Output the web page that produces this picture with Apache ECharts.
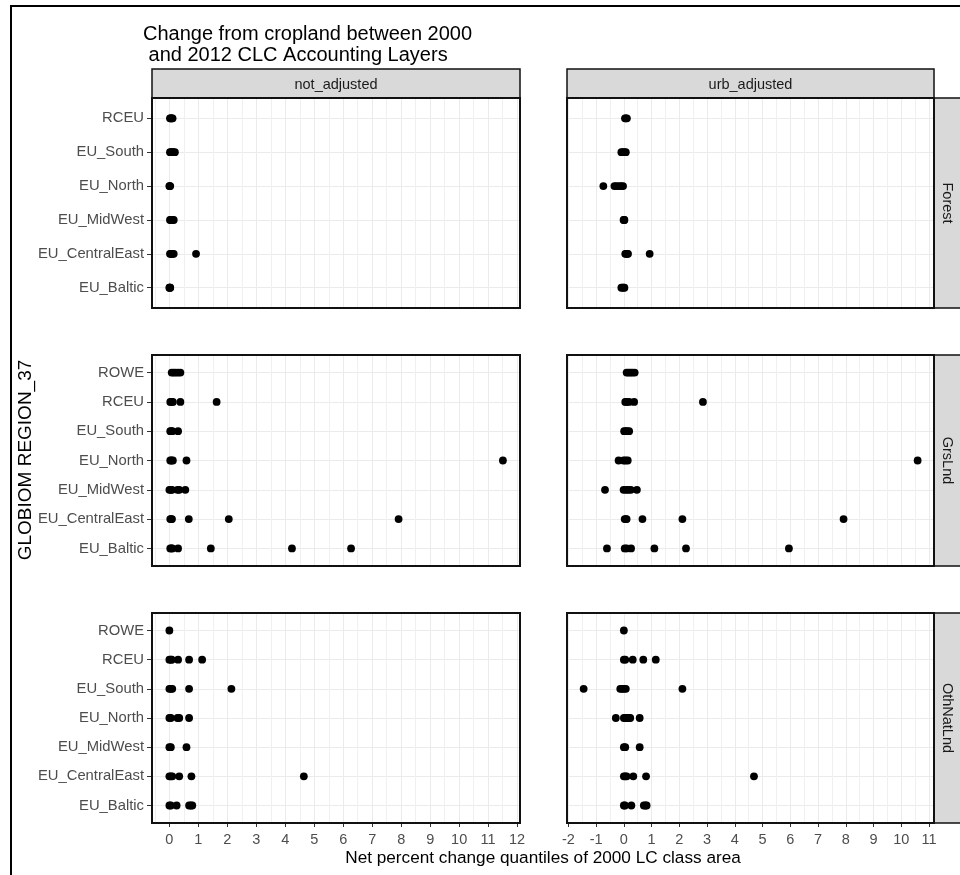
<!DOCTYPE html>
<html><head><meta charset="utf-8">
<script src="https://cdn.jsdelivr.net/npm/echarts@6/dist/echarts.min.js"></script>
<style>html,body{margin:0;padding:0;background:#fff}#c{width:960px;height:875px}</style>
</head><body><div id="c"></div>
<script>
// ---- categories / labels ----
const columnLabels = ['not_adjusted', 'urb_adjusted'];
const rowLabels = ['Forest', 'GrsLnd', 'OthNatLnd'];
const regionsForest = ['EU_Baltic', 'EU_CentralEast', 'EU_MidWest', 'EU_North', 'EU_South', 'RCEU'];
const regionsAll = ['EU_Baltic', 'EU_CentralEast', 'EU_MidWest', 'EU_North', 'EU_South', 'RCEU', 'ROWE'];
const xTicksLeft = [0, 1, 2, 3, 4, 5, 6, 7, 8, 9, 10, 11, 12];
const xTicksRight = [-2, -1, 0, 1, 2, 3, 4, 5, 6, 7, 8, 9, 10, 11];
const titleLines = ['Change from cropland between 2000', ' and 2012 CLC Accounting Layers'];
const xTitle = 'Net percent change quantiles of 2000 LC class area';
const yTitle = 'GLOBIOM REGION_37';

// ---- values (net % change quantiles), one list per region, in region order ----
const forestNotAdj = [
  [0.0, 0.01, 0.02, 0.03],
  [0.02, 0.05, 0.08, 0.11, 0.15, 0.92],
  [0.02, 0.05, 0.08, 0.11, 0.15],
  [0.0, 0.01, 0.03],
  [0.02, 0.06, 0.1, 0.14, 0.19],
  [0.02, 0.04, 0.06, 0.09, 0.11]
];
const forestUrbAdj = [
  [-0.09, -0.05, -0.01, 0.02],
  [0.05, 0.09, 0.12, 0.15, 0.93],
  [-0.01, 0.01, 0.02],
  [-0.74, -0.34, -0.27, -0.18, -0.1, -0.03],
  [-0.09, -0.04, 0.02, 0.07],
  [0.04, 0.07, 0.11]
];
const grsNotAdj = [
  [0.03, 0.07, 0.1, 0.3, 1.43, 4.23, 6.27],
  [0.03, 0.06, 0.09, 0.67, 2.05, 7.91],
  [0.0, 0.05, 0.09, 0.28, 0.34, 0.55],
  [0.03, 0.07, 0.12, 0.59, 11.51],
  [0.03, 0.07, 0.1, 0.3],
  [0.03, 0.07, 0.12, 0.38, 1.63],
  [0.08, 0.15, 0.22, 0.3, 0.38]
];
const grsUrbAdj = [
  [-0.61, 0.03, 0.1, 0.26, 1.1, 2.24, 5.95],
  [0.03, 0.07, 0.1, 0.67, 2.11, 7.92],
  [-0.68, -0.01, 0.08, 0.16, 0.25, 0.47],
  [-0.19, -0.01, 0.06, 0.14, 10.59],
  [0.01, 0.06, 0.12, 0.19],
  [0.05, 0.1, 0.19, 0.37, 2.85],
  [0.1, 0.17, 0.24, 0.31, 0.39]
];
const othNotAdj = [
  [0.0, 0.05, 0.25, 0.68, 0.74, 0.79],
  [0.0, 0.05, 0.1, 0.34, 0.76, 4.64],
  [0.0, 0.05, 0.59],
  [0.0, 0.05, 0.28, 0.34, 0.68],
  [0.0, 0.05, 0.1, 0.68, 2.14],
  [0.0, 0.05, 0.08, 0.3, 0.68, 1.13],
  [0.0]
];
const othUrbAdj = [
  [0.0, 0.04, 0.27, 0.72, 0.78, 0.82],
  [0.0, 0.05, 0.1, 0.34, 0.8, 4.69],
  [0.0, 0.05, 0.57],
  [-0.29, 0.0, 0.06, 0.12, 0.18, 0.23, 0.57],
  [-1.45, -0.13, -0.07, 0.0, 0.07, 2.11],
  [0.0, 0.05, 0.32, 0.7, 1.15],
  [0.0]
];
// axis limits
const xLimLeft = [-0.6, 12.1];
const xLimRight = [-2.05, 11.18];

// ---- layout ----
const FONT = "'Liberation Sans', Arial, sans-serif";
const colLeft = [152, 567], colWidth = [368, 367];
const rowTop = [98, 355, 613], rowHeight = [210, 211, 210];
const stripTop = 69, stripH = 29, rightStripX = 934;

const facetRows = [
  { regions: regionsForest, data: [forestNotAdj, forestUrbAdj] },
  { regions: regionsAll, data: [grsNotAdj, grsUrbAdj] },
  { regions: regionsAll, data: [othNotAdj, othUrbAdj] }
];

const grids = [], xAxes = [], yAxes = [], series = [], graphics = [];
let k = 0;
facetRows.forEach((fr, r) => {
  const n = fr.regions.length;
  const idx = fr.regions.map((_, i) => i);
  [0, 1].forEach(c => {
    grids.push({ left: colLeft[c], top: rowTop[r], width: colWidth[c], height: rowHeight[r],
                 show: false, containLabel: false, outerBoundsMode: 'none' });
    const lim = c === 0 ? xLimLeft : xLimRight;
    const ticks = c === 0 ? xTicksLeft : xTicksRight;
    const bottom = r === 2;
    xAxes.push({
      type: 'value', gridIndex: k, position: 'bottom', min: lim[0], max: lim[1], minInterval: 1, maxInterval: 1,
      axisLine: { show: false, onZero: false },
      axisTick: { show: bottom, length: 4, lineStyle: { color: '#333333', width: 1 }, customValues: ticks },
      axisLabel: { show: bottom, customValues: ticks, color: '#4D4D4D', fontSize: 14.5, fontFamily: FONT, margin: 9 },
      splitLine: { show: true, lineStyle: { color: '#EBEBEB', width: 1 } },
      minorTick: { show: false, splitNumber: 2 },
      minorSplitLine: { show: true, lineStyle: { color: '#F0F0F0', width: 1 } }
    });
    yAxes.push({
      type: 'value', gridIndex: k, position: 'left', min: -0.6, max: n - 0.4, minInterval: 1, maxInterval: 1,
      axisLine: { show: false, onZero: false },
      axisTick: { show: c === 0, length: 5, lineStyle: { color: '#333333', width: 1 }, customValues: idx },
      axisLabel: { show: c === 0, customValues: idx, color: '#4D4D4D', fontSize: 14.8, fontFamily: FONT, margin: 8,
                   formatter: v => (Math.abs(v - Math.round(v)) < 1e-6 && fr.regions[Math.round(v)]) ? fr.regions[Math.round(v)] : '' },
      splitLine: { show: true, lineStyle: { color: '#EBEBEB', width: 1 } }
    });
    const pts = [];
    fr.data[c].forEach((vals, i) => vals.forEach(v => pts.push([v, i])));
    series.push({ type: 'scatter', xAxisIndex: k, yAxisIndex: k, data: pts, symbolSize: 7.8,
                  itemStyle: { color: '#000000', opacity: 1 }, emphasis: { disabled: true }, z: 5 });
    // panel border
    graphics.push({ type: 'rect', z: 100, silent: true,
      shape: { x: colLeft[c], y: rowTop[r], width: colWidth[c], height: rowHeight[r] },
      style: { fill: 'none', stroke: '#111111', lineWidth: 2 } });
    k++;
  });
  // right strip
  graphics.push({ type: 'rect', z: 90, silent: true,
    shape: { x: rightStripX, y: rowTop[r], width: 60, height: rowHeight[r] },
    style: { fill: '#D9D9D9', stroke: '#111111', lineWidth: 1.5 } });
  graphics.push({ type: 'text', z: 101, silent: true, x: 947, y: rowTop[r] + rowHeight[r] / 2, rotation: -Math.PI / 2,
    style: { text: rowLabels[r], fill: '#1A1A1A', font: '14.5px ' + FONT, align: 'center', verticalAlign: 'middle',
             textAlign: 'center', textVerticalAlign: 'middle' } });
});
// top strips
[0, 1].forEach(c => {
  graphics.push({ type: 'rect', z: 90, silent: true,
    shape: { x: colLeft[c], y: stripTop, width: colWidth[c], height: stripH },
    style: { fill: '#D9D9D9', stroke: '#111111', lineWidth: 1.5 } });
  graphics.push({ type: 'text', z: 101, silent: true, x: colLeft[c] + colWidth[c] / 2, y: stripTop + stripH / 2 + 1,
    style: { text: columnLabels[c], fill: '#1A1A1A', font: '14.5px ' + FONT, align: 'center', verticalAlign: 'middle',
             textAlign: 'center', textVerticalAlign: 'middle' } });
});
// titles
graphics.push({ type: 'text', z: 101, silent: true, x: 143, y: 34,
  style: { text: titleLines[0], fill: '#000', font: '20px ' + FONT, align: 'left', verticalAlign: 'middle', textAlign: 'left', textVerticalAlign: 'middle' } });
graphics.push({ type: 'text', z: 101, silent: true, x: 143, y: 55,
  style: { text: titleLines[1], fill: '#000', font: '20px ' + FONT, align: 'left', verticalAlign: 'middle', textAlign: 'left', textVerticalAlign: 'middle' } });
graphics.push({ type: 'text', z: 101, silent: true, x: 543, y: 858,
  style: { text: xTitle, fill: '#000', font: '17.2px ' + FONT, align: 'center', verticalAlign: 'middle', textAlign: 'center', textVerticalAlign: 'middle' } });
graphics.push({ type: 'text', z: 101, silent: true, x: 26, y: 460, rotation: Math.PI / 2,
  style: { text: yTitle, fill: '#000', font: '19px ' + FONT, align: 'center', verticalAlign: 'middle', textAlign: 'center', textVerticalAlign: 'middle' } });
// outer frame (image is cropped on right/bottom)
graphics.push({ type: 'rect', z: 100, silent: true,
  shape: { x: 11, y: 6, width: 1100, height: 1100 }, style: { fill: 'none', stroke: '#000', lineWidth: 2 } });

const chart = echarts.init(document.getElementById('c'), null, { renderer: 'canvas' });
chart.setOption({
  animation: false,
  backgroundColor: '#ffffff',
  grid: grids, xAxis: xAxes, yAxis: yAxes, series: series, graphic: graphics
});
</script></body></html>
